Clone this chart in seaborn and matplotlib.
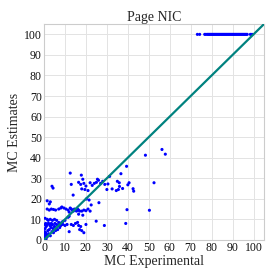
import matplotlib
matplotlib.use("Agg")
import matplotlib.pyplot as plt
import seaborn as sns
import pandas as pd

# ---- data ----
exp_vals = [
    56.3, 57.9, 48.4, 39.4, 36.7, 31.3, 12.5, 17.8, 18.5, 52.5, 40.6, 40.0, 35.9, 35.0, 37.5,
    35.5, 34.5, 36.0, 32.5, 30.0, 42.5, 42.8, 28.0, 27.0, 29.0, 30.5, 26.0, 25.5, 25.0, 24.0,
    23.0, 22.0, 3.8, 4.3, 13.0, 16.5, 17.5, 19.0, 20.0, 19.5, 21.0, 18.0, 13.9, 20.2, 21.5,
    26.2, 22.5, 50.3, 39.6, 39.0, 28.8, 24.9,
    1.5, 2.5, 3.5, 4.5, 5.5, 7.0, 8.0, 8.5, 9.5, 10.5, 11.5, 12.5, 13.0, 13.5, 14.0, 14.5,
    15.0, 15.5, 16.0, 16.5, 17.0, 18.0, 19.0, 20.0, 21.0, 22.0, 12.0, 16.5, 18.5, 1.5, 2.5, 3.0,
    10.0, 11.5, 12.0, 9.0, 8.0, 7.5, 6.5,
    0.5, 1.5, 2.0, 3.0, 4.0, 5.0, 6.0,
    0.3, 0.5, 0.8, 1.0, 1.2, 1.5, 1.8, 2.0, 2.2, 2.5, 2.8, 3.0, 3.3, 3.5, 3.8, 4.0, 4.3, 4.5,
    5.0, 5.2, 5.5, 6.0, 6.5, 7.0, 7.5, 8.0, 8.5, 9.0, 10.0, 11.0, 12.0, 13.0, 14.0, 15.0, 16.0,
    16.5, 17.0, 17.5, 18.0, 19.0, 20.0, 0.2, 0.6, 1.0, 1.5, 0.3, 0.8, 1.2, 2.5, 3.8, 0.5,
    73.2, 74.3, 76.7, 77.3, 78.0, 78.5, 79.0, 79.5, 80.0, 80.5, 81.0, 81.5, 82.0, 82.5, 83.0,
    83.5, 84.0, 84.5, 85.0, 85.5, 86.0, 86.5, 87.0, 87.5, 88.0, 88.5, 89.0, 89.5, 90.0, 90.5,
    91.0, 91.5, 92.0, 92.5, 93.0, 93.5, 94.0, 94.5, 95.0, 95.5, 96.0, 96.5, 97.0, 98.5, 99.3,
]
est_vals = [
    44.0, 41.7, 41.2, 35.8, 32.2, 30.9, 32.5, 31.5, 29.5, 27.8, 27.8, 26.8, 27.8, 28.5, 25.0,
    24.5, 24.0, 26.0, 24.8, 24.5, 24.9, 23.7, 28.5, 27.5, 27.0, 27.2, 29.0, 29.5, 28.0, 27.5,
    26.5, 27.8, 26.1, 25.2, 27.0, 28.0, 27.0, 27.5, 26.2, 24.5, 24.0, 24.8, 21.8, 19.9, 19.4,
    18.1, 17.0, 14.4, 14.7, 8.0, 7.0, 9.1,
    15.0, 14.5, 15.0, 14.8, 14.5, 15.0, 15.5, 16.0, 15.5, 15.0, 14.5, 15.5, 15.0, 14.5, 14.0, 15.0,
    14.5, 14.0, 15.0, 14.5, 14.0, 14.0, 14.5, 14.2, 15.0, 14.0, 13.5, 12.5, 12.0, 19.0, 17.5, 18.5,
    9.5, 11.0, 11.5, 9.0, 8.0, 7.5, 7.0,
    10.5, 10.0, 9.5, 10.0, 9.5, 10.0, 9.5,
    4.0, 5.5, 3.5, 6.5, 2.5, 7.5, 4.5, 8.0, 3.0, 5.0, 7.0, 2.0, 6.0, 8.0, 4.0, 7.5, 5.5, 3.5,
    6.5, 8.0, 4.5, 7.5, 5.0, 8.5, 6.0, 7.0, 8.5, 7.5, 7.0, 7.5, 4.0, 7.5, 7.0, 8.0, 8.5,
    7.0, 5.0, 6.5, 4.5, 3.5, 7.5, 1.0, 2.0, 0.5, 1.5, 7.5, 8.0, 7.0, 7.8, 7.2, 3.0,
    100, 100, 100, 100, 100, 100, 100, 100, 100, 100, 100, 100, 100, 100, 100,
    100, 100, 100, 100, 100, 100, 100, 100, 100, 100, 100, 100, 100, 100, 100,
    100, 100, 100, 100, 100, 100, 100, 100, 100, 100, 100, 100, 100, 100, 100,
]
diag_vals = [0, 105]
x_ticks = [0, 10, 20, 30, 40, 50, 60, 70, 80, 90, 100]
y_ticks = [0, 10, 20, 30, 40, 50, 60, 70, 80, 90, 100]
title = "Page NIC"
x_label = "MC Experimental"
y_label = "MC Estimates"

df = pd.DataFrame({"exp": exp_vals, "est": est_vals})
diag = pd.DataFrame({"x": diag_vals, "y": diag_vals})

sns.set_style("whitegrid")
plt.rcParams["font.family"] = ["Liberation Serif", "DejaVu Serif"]

fig = plt.figure(figsize=(2.77, 2.77), dpi=100)
ax = fig.add_axes([0.159, 0.134, 0.794, 0.779])

sns.scatterplot(data=df, x="exp", y="est", ax=ax, color="blue", s=5,
                edgecolor="none", linewidth=0, zorder=3)
sns.lineplot(data=diag, x="x", y="y", ax=ax, color="#00827f", linewidth=1.6, zorder=4)

ax.set_xlim(0, 105)
ax.set_ylim(0, 105)
ax.set_xticks(x_ticks)
ax.set_yticks(y_ticks)
ax.tick_params(axis="both", labelsize=8.5, length=0, pad=1.5, colors="#111111")
ax.grid(True, color="#e3e3e3", linewidth=0.7)
for sp in ax.spines.values():
    sp.set_color("#cccccc")
    sp.set_linewidth(0.8)
ax.set_title(title, fontsize=10, pad=2)
ax.set_xlabel(x_label, fontsize=10, labelpad=1)
ax.set_ylabel(y_label, fontsize=10, labelpad=2)

fig.savefig("out.png", dpi=100)
